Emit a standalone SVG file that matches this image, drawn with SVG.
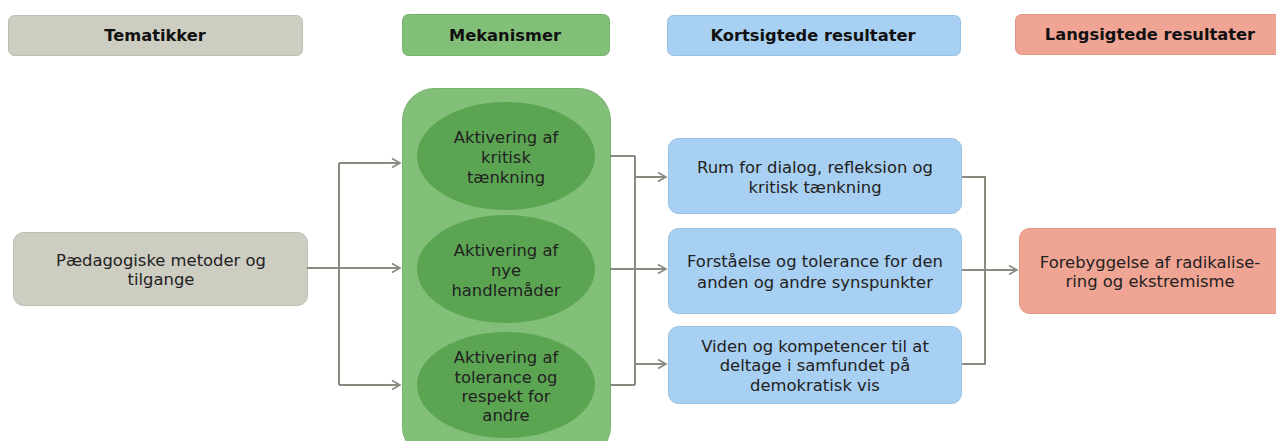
<svg xmlns="http://www.w3.org/2000/svg" width="1276" height="441" viewBox="0 0 1276 441">
<defs>
<marker id="arr" markerWidth="12" markerHeight="12" refX="10" refY="6" orient="auto" markerUnits="userSpaceOnUse">
<path d="M2,1.5 L10,6 L2,10.5" fill="none" stroke="#8a8a80" stroke-width="1.6"/>
</marker>
<style>
.t{font-family:"DejaVu Sans",Verdana,sans-serif;font-size:16.4px;fill:#222;text-anchor:middle}
.h{font-family:"DejaVu Sans",Verdana,sans-serif;font-size:16.3px;font-weight:bold;fill:#111;text-anchor:middle}
.gray{fill:#cdcdc1;stroke:#bdbdb2;stroke-width:1}
.green{fill:#82bf78;stroke:#76b36c;stroke-width:1}
.dgreen{fill:#5ba552}
.blue{fill:#a8d0f2;stroke:#98c0e0;stroke-width:1}
.red{fill:#f0a494;stroke:#e09484;stroke-width:1}
.c{fill:none;stroke:#8a8a80;stroke-width:2}
</style>
</defs>
<g id="hdr-tematikker"><rect class="gray" x="8.5" y="15.5" width="294" height="40" rx="6"/><text class="h" x="155" y="41">Tematikker</text></g>
<g id="hdr-mekanismer"><rect class="green" x="402.5" y="14.5" width="207" height="41" rx="6"/><text class="h" x="505" y="41">Mekanismer</text></g>
<g id="hdr-kort"><rect class="blue" x="667.5" y="15.5" width="293" height="40" rx="6"/><text class="h" x="813" y="41">Kortsigtede resultater</text></g>
<g id="hdr-lang"><rect class="red" x="1015.5" y="14.5" width="270" height="40" rx="6"/><text class="h" x="1150" y="40">Langsigtede resultater</text></g>

<g id="node-paed"><rect class="gray" x="13.5" y="232.5" width="294" height="73" rx="10"/><text class="t" x="161" y="266">Pædagogiske metoder og</text><text class="t" x="161" y="285">tilgange</text></g>

<g id="node-mek"><rect class="green" x="402.5" y="88.5" width="208" height="370" rx="32"/></g>
<g id="node-e1"><ellipse class="dgreen" cx="506" cy="156" rx="89" ry="54"/><text class="t" x="506" y="143">Aktivering af</text><text class="t" x="506" y="163">kritisk</text><text class="t" x="506" y="183">tænkning</text></g>
<g id="node-e2"><ellipse class="dgreen" cx="506" cy="269" rx="89" ry="54"/><text class="t" x="506" y="256">Aktivering af</text><text class="t" x="506" y="276">nye</text><text class="t" x="506" y="296">handlemåder</text></g>
<g id="node-e3"><ellipse class="dgreen" cx="506" cy="385" rx="89" ry="53"/><text class="t" x="506" y="363">Aktivering af</text><text class="t" x="506" y="383">tolerance og</text><text class="t" x="506" y="402">respekt for</text><text class="t" x="506" y="421">andre</text></g>

<g id="node-rum"><rect class="blue" x="668.5" y="138.5" width="293" height="75" rx="10"/><text class="t" x="815" y="173">Rum for dialog, refleksion og</text><text class="t" x="815" y="193">kritisk tænkning</text></g>
<g id="node-forst"><rect class="blue" x="668.5" y="228.5" width="293" height="85" rx="10"/><text class="t" x="815" y="267">Forståelse og tolerance for den</text><text class="t" x="815" y="288">anden og andre synspunkter</text></g>
<g id="node-viden"><rect class="blue" x="668.5" y="326.5" width="293" height="77" rx="10"/><text class="t" x="815" y="352">Viden og kompetencer til at</text><text class="t" x="815" y="371">deltage i samfundet på</text><text class="t" x="815" y="391">demokratisk vis</text></g>

<g id="node-fore"><rect class="red" x="1019.5" y="228.5" width="270" height="85" rx="10"/><text class="t" x="1150" y="268">Forebyggelse af radikalise-</text><text class="t" x="1150" y="287">ring og ekstremisme</text></g>

<g id="connectors">
<path class="c" d="M307,268 H339"/>
<path class="c" d="M339,163 V385"/>
<path class="c" d="M339,163 H400" marker-end="url(#arr)"/>
<path class="c" d="M339,268 H400" marker-end="url(#arr)"/>
<path class="c" d="M339,385 H400" marker-end="url(#arr)"/>
<path class="c" d="M610,156 H635 M610,269 H635 M610,385 H635"/>
<path class="c" d="M635,156 V385"/>
<path class="c" d="M635,177 H666" marker-end="url(#arr)"/>
<path class="c" d="M635,269 H666" marker-end="url(#arr)"/>
<path class="c" d="M635,364 H666" marker-end="url(#arr)"/>
<path class="c" d="M962,177 H985 V364 H962"/>
<path class="c" d="M962,270 H985"/>
<path class="c" d="M985,270 H1017" marker-end="url(#arr)"/>
</g>
</svg>
